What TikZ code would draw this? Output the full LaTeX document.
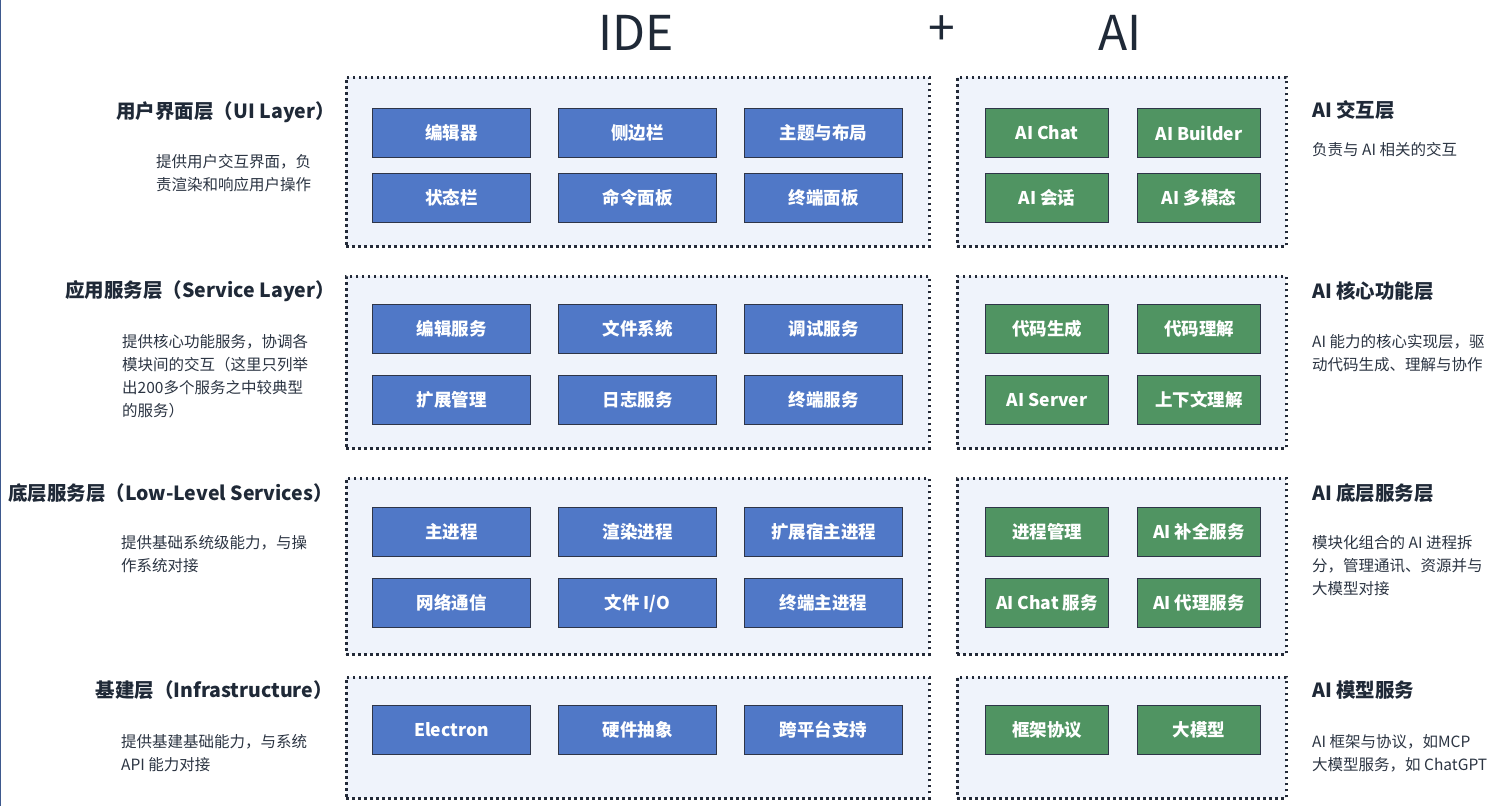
\documentclass[tikz,border=0pt]{standalone}
\usepackage{fontspec}
\setmainfont{Noto Sans CJK SC}
\usepackage{xcolor}
\usepackage{tikz}
\usetikzlibrary{positioning}
\definecolor{LayerInk}{HTML}{1F2937}
\definecolor{LayerNote}{HTML}{2B3442}
\definecolor{LayerFill}{HTML}{EFF3FB}
\definecolor{LayerEdge}{HTML}{232A38}
\definecolor{BoxEdge}{HTML}{2E3548}
\definecolor{IdeBlue}{HTML}{5078C7}
\definecolor{AiGreen}{HTML}{509462}

\begin{document}
\begin{tikzpicture}[
  x=1pt,y=-1pt,
  node distance=15pt and 27pt,
  panel/.style={draw=LayerEdge,fill=LayerFill,line width=2.5pt,dash pattern=on 2.5pt off 3.5pt,anchor=north west,inner sep=0pt},
  ideblk/.style={draw=BoxEdge,fill=IdeBlue,line width=1pt,text=white,font=\fontsize{17.5}{20}\selectfont\bfseries,minimum width=158pt,minimum height=49pt,inner sep=0pt},
  aiblk/.style={ideblk,fill=AiGreen,minimum width=123pt},
  layertitle/.style={text=LayerInk,font=\fontsize{19.5}{23}\selectfont\bfseries,inner sep=0pt},
  layernote/.style={text=LayerNote,font=\fontsize{15.5}{23}\selectfont,align=left,anchor=north west,inner sep=0pt},
  headline/.style={text=LayerInk,font=\fontsize{48}{56}\selectfont,inner sep=0pt}
]
\useasboundingbox (0,0) rectangle (1500,806);
\draw[line width=1pt,IdeBlue!60!LayerEdge] (0.5,0) -- (0.5,806);

% headings
\node[headline] (ide) at (636,33) {IDE};
\node[headline] (plus) at (942,31) {+};
\node[headline] (ai) at (1120,33) {AI};

% layer panels
\node[panel,minimum width=583pt,minimum height=169pt] (uiIde) at (345,76) {};
\node[panel,minimum width=583pt,minimum height=172pt] (svcIde) at (345,275) {};
\node[panel,minimum width=583pt,minimum height=176pt] (lowIde) at (345,477) {};
\node[panel,minimum width=583pt,minimum height=121pt] (infraIde) at (345,676) {};
\node[panel,minimum width=329pt,minimum height=169pt] (uiAi) at (956,76) {};
\node[panel,minimum width=329pt,minimum height=172pt] (svcAi) at (956,275) {};
\node[panel,minimum width=329pt,minimum height=176pt] (lowAi) at (956,477) {};
\node[panel,minimum width=329pt,minimum height=121pt] (infraAi) at (956,676) {};

% UI layer
\node[ideblk,anchor=north west] (editor) at (372,108) {编辑器};
\node[ideblk,right=of editor] (sidebar) {侧边栏};
\node[ideblk,right=of sidebar] (theme) {主题与布局};
\node[ideblk,below=of editor] (statusbar) {状态栏};
\node[ideblk,right=of statusbar] (cmdpanel) {命令面板};
\node[ideblk,right=of cmdpanel] (termpanel) {终端面板};
\node[aiblk,anchor=north west] (aichat) at (985,108) {AI Chat};
\node[aiblk,right=28pt of aichat] (aibuilder) {AI Builder};
\node[aiblk,below=of aichat] (aisession) {AI 会话};
\node[aiblk,right=28pt of aisession] (aimulti) {AI 多模态};

% service layer
\node[ideblk,anchor=north west] (editsvc) at (372,304) {编辑服务};
\node[ideblk,right=of editsvc] (filesys) {文件系统};
\node[ideblk,right=of filesys] (debugsvc) {调试服务};
\node[ideblk,below=21pt of editsvc] (extmgr) {扩展管理};
\node[ideblk,right=of extmgr] (logsvc) {日志服务};
\node[ideblk,right=of logsvc] (termsvc) {终端服务};
\node[aiblk,anchor=north west] (codegen) at (985,304) {代码生成};
\node[aiblk,right=28pt of codegen] (codeunder) {代码理解};
\node[aiblk,below=21pt of codegen] (aiserver) {AI Server};
\node[aiblk,right=28pt of aiserver] (context) {上下文理解};

% low-level services
\node[ideblk,anchor=north west] (mainproc) at (372,507) {主进程};
\node[ideblk,right=of mainproc] (renderproc) {渲染进程};
\node[ideblk,right=of renderproc] (exthost) {扩展宿主进程};
\node[ideblk,below=21pt of mainproc] (network) {网络通信};
\node[ideblk,right=of network] (fileio) {文件 I/O};
\node[ideblk,right=of fileio] (termproc) {终端主进程};
\node[aiblk,anchor=north west] (procmgr) at (985,507) {进程管理};
\node[aiblk,right=28pt of procmgr] (completion) {AI 补全服务};
\node[aiblk,below=21pt of procmgr] (chatsvc) {AI Chat 服务};
\node[aiblk,right=28pt of chatsvc] (agentsvc) {AI 代理服务};

% infrastructure
\node[ideblk,anchor=north west] (electron) at (372,705) {Electron};
\node[ideblk,right=of electron] (hwabs) {硬件抽象};
\node[ideblk,right=of hwabs] (xplat) {跨平台支持};
\node[aiblk,anchor=north west] (protocol) at (985,705) {框架协议};
\node[aiblk,right=28pt of protocol] (llm) {大模型};

% left captions
\node[layertitle,anchor=east] (uiTitle) at (335,112) {用户界面层（UI Layer）};
\node[layernote] (uiNote) at (156,154) {提供用户交互界面，负\\责渲染和响应用户操作};
\node[layertitle,anchor=east] (svcTitle) at (335,291) {应用服务层（Service Layer）};
\node[layernote] (svcNote) at (122,334) {提供核心功能服务，协调各\\模块间的交互（这里只列举\\出200多个服务之中较典型\\的服务）};
\node[layertitle,anchor=east] (lowTitle) at (333,493) {底层服务层（Low-Level Services）};
\node[layernote] (lowNote) at (121,535) {提供基础系统级能力，与操\\作系统对接};
\node[layertitle,anchor=east] (infraTitle) at (333,690) {基建层（Infrastructure）};
\node[layernote] (infraNote) at (121,734) {提供基建基础能力，与系统\\API 能力对接};

% right captions
\node[layertitle,anchor=west] (uiAiTitle) at (1312,110) {AI 交互层};
\node[layernote] (uiAiNote) at (1312,142) {负责与 AI 相关的交互};
\node[layertitle,anchor=west] (svcAiTitle) at (1312,291) {AI 核心功能层};
\node[layernote] (svcAiNote) at (1312,334) {AI 能力的核心实现层，驱\\动代码生成、理解与协作};
\node[layertitle,anchor=west] (lowAiTitle) at (1312,493) {AI 底层服务层};
\node[layernote] (lowAiNote) at (1312,535) {模块化组合的 AI 进程拆\\分，管理通讯、资源并与\\大模型对接};
\node[layertitle,anchor=west] (infraAiTitle) at (1312,690) {AI 模型服务};
\node[layernote] (infraAiNote) at (1312,734) {AI 框架与协议，如MCP\\大模型服务，如 ChatGPT};
\end{tikzpicture}
\end{document}
